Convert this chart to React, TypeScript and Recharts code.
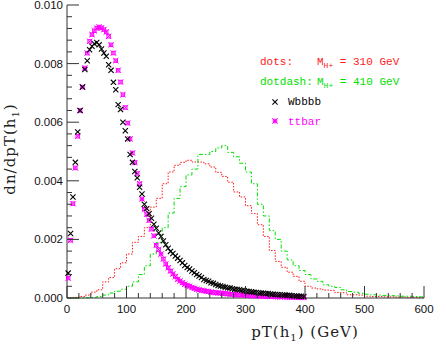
import { ComposedChart, Line, Scatter, XAxis, YAxis } from 'recharts'

// pT bin centres (4 GeV bins) for the two backgrounds
const ptCentres = [
  2, 6, 10, 14, 18, 22, 26, 30, 34, 38, 42, 46, 50, 54, 58, 62, 66, 70, 74, 78,
  82, 86, 90, 94, 98, 102, 106, 110, 114, 118, 122, 126, 130, 134, 138, 142, 146, 150, 154, 158,
  162, 166, 170, 174, 178, 182, 186, 190, 194, 198, 202, 206, 210, 214, 218, 222, 226, 230, 234, 238,
  242, 246, 250, 254, 258, 262, 266, 270, 274, 278, 282, 286, 290, 294, 298, 302, 306, 310, 314, 318,
  322, 326, 330, 334, 338, 342, 346, 350, 354, 358, 362, 366, 370, 374, 378, 382, 386, 390, 394, 398,
]

const wbbbb = [
  0.00085, 0.0022, 0.00345, 0.00463, 0.00567, 0.0064, 0.0072, 0.0078, 0.0081, 0.00847,
  0.00859, 0.00868, 0.00872, 0.00864, 0.0085, 0.00836, 0.00825, 0.00796, 0.00777, 0.00736,
  0.00711, 0.0066, 0.00643, 0.006, 0.00571, 0.00543, 0.0049, 0.00463, 0.00432, 0.0041,
  0.00378, 0.00355, 0.0032, 0.00305, 0.00288, 0.00272, 0.00252, 0.00238, 0.00222, 0.0021,
  0.00195, 0.00182, 0.0017, 0.00159, 0.00152, 0.00143, 0.00136, 0.00128, 0.0012, 0.00111,
  0.00104, 0.00099, 0.00092, 0.00086, 0.0008, 0.00075, 0.0007, 0.00063, 0.0006, 0.00057,
  0.00052, 0.0005, 0.00046, 0.00043, 0.00041, 0.00039, 0.00037, 0.00035, 0.00034, 0.00032,
  0.0003, 0.00029, 0.00028, 0.00026, 0.00025, 0.00023, 0.00022, 0.00021, 0.0002, 0.00019,
  0.00018, 0.00017, 0.00016, 0.00015, 0.00015, 0.00014, 0.00013, 0.00012, 0.00012, 0.00011,
  0.0001, 0.0001, 0.00009, 0.00009, 0.00008, 0.00007, 0.00007, 0.00006, 0.00006, 0.00005,
]

const ttbar = [
  0.00068, 0.00197, 0.00322, 0.00444, 0.00552, 0.0064, 0.0072, 0.00785, 0.00836, 0.00876,
  0.00899, 0.00912, 0.00921, 0.00925, 0.00922, 0.00916, 0.00908, 0.00893, 0.00864, 0.00836,
  0.0081, 0.00777, 0.00737, 0.00694, 0.0065, 0.00597, 0.00543, 0.00495, 0.00462, 0.00425,
  0.0039, 0.00338, 0.00303, 0.00285, 0.00265, 0.00235, 0.00212, 0.0018, 0.00165, 0.0015,
  0.00133, 0.00116, 0.00103, 0.00092, 0.00082, 0.00073, 0.00064, 0.00058, 0.00052, 0.00047,
  0.00043, 0.0004, 0.00036, 0.00033, 0.0003, 0.00028, 0.00026, 0.00025, 0.00023, 0.00022,
  0.0002, 0.00019, 0.00018, 0.00017, 0.00017, 0.00016, 0.00015, 0.00014, 0.00013, 0.00013,
  0.00012, 0.00011, 0.00011, 0.0001, 0.0001, 0.00009, 0.00009, 0.00008, 0.00008, 0.00007,
  0.00007, 0.00007, 0.00006, 0.00006, 0.00006, 0.00005, 0.00005, 0.00005, 0.00004, 0.00004,
  0.00004, 0.00004, 0.00003, 0.00003, 0.00003, 0.00003, 0.00002, 0.00002, 0.00002, 0.00002,
]

// signal histograms, 10 GeV bins (lower edges, last edge closes the histogram)
const histEdges = [
  0, 10, 20, 30, 40, 50, 60, 70, 80, 90, 100, 110, 120, 130, 140, 150, 160, 170, 180, 190,
  200, 210, 220, 230, 240, 250, 260, 270, 280, 290, 300, 310, 320, 330, 340, 350, 360, 370, 380, 390,
  400, 410, 420, 430, 440, 450, 460, 470, 480, 490, 500, 510, 520, 530, 540, 550, 560, 570, 580, 590,
  600,
]

const m310 = [
  0, 0.00002, 0.00005, 0.0001, 0.0002, 0.00028, 0.00055, 0.0007, 0.001, 0.0012,
  0.0015, 0.0019, 0.0021, 0.0024, 0.0031, 0.0034, 0.0039, 0.0043, 0.00453, 0.00463,
  0.0047, 0.00464, 0.00464, 0.00458, 0.00447, 0.00429, 0.00415, 0.00395, 0.00362, 0.00345,
  0.00315, 0.00288, 0.0025, 0.0021, 0.00162, 0.00125, 0.00105, 0.00088, 0.00074, 0.00057,
  0.0004, 0.00034, 0.00031, 0.00027, 0.00026, 0.00019, 0.00018, 0.00011, 0.00011, 0.0001,
  0.00006, 0.00005, 0.00005, 0.00004, 0.00004, 0.00003, 0.00003, 0.00002, 0.00002, 0.00001,
]

const m410 = [
  0, 0, 0, 0.00001, 0.00002, 0.00005, 0.0001, 0.00017, 0.00023, 0.0003,
  0.0004, 0.00055, 0.0008, 0.0011, 0.0015, 0.0019, 0.0024, 0.0029, 0.0034, 0.0038,
  0.0042, 0.0044, 0.0049, 0.0049, 0.005, 0.00512, 0.0052, 0.00497, 0.00482, 0.0046,
  0.0043, 0.0039, 0.0032, 0.0028, 0.0023, 0.002, 0.0016, 0.0013, 0.0011, 0.00094,
  0.0008, 0.00065, 0.00057, 0.00045, 0.0004, 0.00036, 0.00028, 0.00022, 0.0002, 0.00016,
  0.00013, 0.00011, 0.0001, 0.00009, 0.00008, 0.00007, 0.00006, 0.00006, 0.00005, 0.00004,
]

const xTicks = [
  0, 20, 40, 60, 80, 100, 120, 140, 160, 180, 200, 220, 240, 260, 280, 300,
  320, 340, 360, 380, 400, 420, 440, 460, 480, 500, 520, 540, 560, 580, 600,
]
const yTicks = [
  0, 0.0004, 0.0008, 0.0012, 0.0016, 0.002, 0.0024, 0.0028, 0.0032, 0.0036, 0.004, 0.0044, 0.0048,
  0.0052, 0.0056, 0.006, 0.0064, 0.0068, 0.0072, 0.0076, 0.008, 0.0084, 0.0088, 0.0092, 0.0096, 0.01,
]

const AXIS = '#333'
const RED = '#ff1a1a'
const GREEN = '#00e000'
const MAGENTA = '#ff00ff'
const TICK_FONT = '"Liberation Sans", Arial, sans-serif'
const TITLE_FONT = '"DejaVu Serif", serif'
const LEGEND_FONT = '"Liberation Mono", monospace'

const wbbbbData = ptCentres.map((x, i) => ({ x, y: wbbbb[i] }))
const ttbarData = ptCentres.map((x, i) => ({ x, y: ttbar[i] }))
const histData = (vals: number[]) =>
  histEdges.map((x, i) => ({ x, y: vals[Math.min(i, vals.length - 1)] }))

const isMajorX = (v: number) => v % 100 === 0
const isMajorY = (v: number) => Math.round(v * 10000) % 20 === 0

const BottomTick = ({ x, y, payload }: any) => {
  const major = isMajorX(payload.value)
  return (
    <g>
      <line x1={x} x2={x} y1={y} y2={y - (major ? 12 : 5)} stroke={AXIS} />
      {major && (
        <text x={x} y={y + 15} textAnchor="middle" fontFamily={TICK_FONT} fontSize={11.5} fill="#111">
          {payload.value}
        </text>
      )}
    </g>
  )
}

const TopTick = ({ x, y, payload }: any) => (
  <line x1={x} x2={x} y1={y} y2={y + (isMajorX(payload.value) ? 12 : 5)} stroke={AXIS} />
)

const LeftTick = ({ x, y, payload }: any) => {
  const major = isMajorY(payload.value)
  return (
    <g>
      <line x1={x} x2={x + (major ? 12 : 5)} y1={y} y2={y} stroke={AXIS} />
      {major && (
        <text x={x - 4} y={y + 4} textAnchor="end" fontFamily={TICK_FONT} fontSize={11.5} fill="#111">
          {payload.value.toFixed(3)}
        </text>
      )}
    </g>
  )
}

const RightTick = ({ x, y, payload }: any) => (
  <line x1={x} x2={x - (isMajorY(payload.value) ? 12 : 5)} y1={y} y2={y} stroke={AXIS} />
)

const Cross = ({ cx, cy }: any) => (
  <path d={`M${cx - 2.6},${cy - 2.6}L${cx + 2.6},${cy + 2.6}M${cx - 2.6},${cy + 2.6}L${cx + 2.6},${cy - 2.6}`}
    stroke="#000" strokeWidth={1.1} fill="none" />
)

const BoxCross = ({ cx, cy }: any) => (
  <g stroke={MAGENTA} fill="none">
    <rect x={cx - 1.7} y={cy - 1.7} width={3.4} height={3.4} strokeWidth={1} />
    <path d={`M${cx - 2.7},${cy - 2.7}L${cx + 2.7},${cy + 2.7}M${cx - 2.7},${cy + 2.7}L${cx + 2.7},${cy - 2.7}`} strokeWidth={1} />
  </g>
)

function Overlay() {
  return (
    <svg width={436} height={346} style={{ position: 'absolute', left: 0, top: 0, pointerEvents: 'none' }}>
      <text x={305} y={337} textAnchor="middle" fontFamily={TITLE_FONT} fontSize={15} letterSpacing={1} fill="#222">
        pT(h<tspan dy={4} fontSize={10}>1</tspan><tspan dy={-4}>) (GeV)</tspan>
      </text>
      <text x={15} y={149} textAnchor="middle" transform="rotate(-90 15 149)" fontFamily={TITLE_FONT}
        fontSize={15} letterSpacing={1} fill="#222">
        dn/dpT(h<tspan dy={4} fontSize={10}>1</tspan><tspan dy={-4}>)</tspan>
      </text>

      <g fontFamily={LEGEND_FONT} fontSize={11} style={{ whiteSpace: 'pre' }}>
        <text x={260} y={65} fill={RED}>dots:</text>
        <text x={317} y={65} fill={RED}>
          M<tspan dy={3} fontSize={8}>H+</tspan><tspan dy={-3}> = 310 GeV</tspan>
        </text>
        <text x={260} y={85} fill={GREEN}>dotdash:</text>
        <text x={317} y={85} fill={GREEN}>
          M<tspan dy={3} fontSize={8}>H+</tspan><tspan dy={-3}> = 410 GeV</tspan>
        </text>
        <Cross cx={275} cy={102} />
        <text x={288} y={105} fill="#000">Wbbbb</text>
        <BoxCross cx={275} cy={121} />
        <text x={288} y={125} fill={MAGENTA}>ttbar</text>
      </g>
    </svg>
  )
}

export default function App() {
  return (
    <div style={{ position: 'absolute', left: 0, top: 0, width: 436, height: 346, background: '#fff' }}>
      <ComposedChart width={436} height={346} margin={{ top: 5, right: 12, left: 0, bottom: 0 }}>
        <XAxis dataKey="x" type="number" domain={[0, 600]} ticks={xTicks} interval={0}
          height={48} tickSize={0} tickMargin={0} tickLine={false} tick={<BottomTick />}
          axisLine={{ stroke: AXIS }} />
        <XAxis xAxisId="top" orientation="top" dataKey="x" type="number" domain={[0, 600]} ticks={xTicks}
          interval={0} height={0} tickSize={0} tickMargin={0} tickLine={false} tick={<TopTick />}
          axisLine={{ stroke: AXIS }} />
        <YAxis dataKey="y" type="number" domain={[0, 0.01]} ticks={yTicks} interval={0} width={67}
          tickSize={0} tickMargin={0} tickLine={false} tick={<LeftTick />} axisLine={{ stroke: AXIS }} />
        <YAxis yAxisId="right" orientation="right" type="number" domain={[0, 0.01]} ticks={yTicks}
          interval={0} width={0} tickSize={0} tickMargin={0} tickLine={false} tick={<RightTick />}
          axisLine={{ stroke: AXIS }} />

        <Line data={histData(m310)} dataKey="y" type="stepAfter" stroke={RED} strokeWidth={1}
          strokeDasharray="1.5 1.5" dot={false} isAnimationActive={false} />
        <Line data={histData(m410)} dataKey="y" type="stepAfter" stroke={GREEN} strokeWidth={1}
          strokeDasharray="4 2 1.5 2" dot={false} isAnimationActive={false} />
        <Scatter data={ttbarData} shape={<BoxCross />} isAnimationActive={false} />
        <Scatter data={wbbbbData} shape={<Cross />} isAnimationActive={false} />
      </ComposedChart>
      <Overlay />
    </div>
  )
}
